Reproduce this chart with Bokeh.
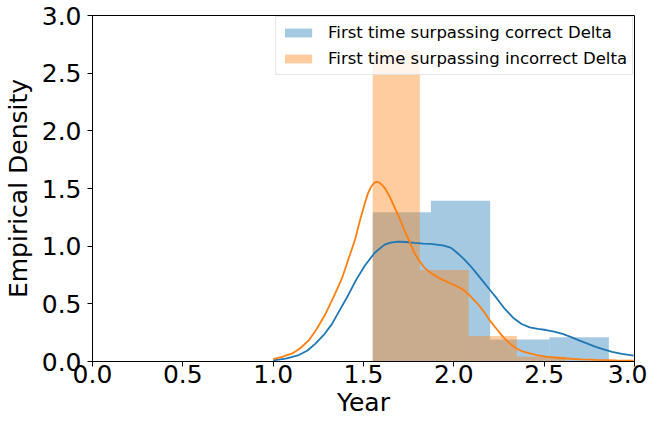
from bokeh.plotting import figure
from bokeh.models import FixedTicker, NumeralTickFormatter, Legend
from bokeh.embed import file_html
from bokeh.resources import INLINE

# ---- data ----
correct_edges = [1.551, 1.873, 2.201, 2.529, 2.858]
correct_density = [1.295, 1.394, 0.191, 0.211]

incorrect_edges = [1.551, 1.812, 2.082, 2.349, 2.620]
incorrect_density = [2.70, 0.794, 0.222, 0.042]

kde_correct_x = [1.0, 1.07, 1.142, 1.19, 1.234, 1.28, 1.325, 1.37, 1.416, 1.46, 1.507, 1.562,
                 1.617, 1.65, 1.69, 1.735, 1.781, 1.83, 1.872, 1.945, 1.985, 2.018, 2.055,
                 2.091, 2.128, 2.164, 2.2, 2.237, 2.28, 2.328, 2.375, 2.42, 2.465, 2.511,
                 2.555, 2.602, 2.65, 2.693, 2.74, 2.785, 2.83, 2.876, 2.93, 2.995]
kde_correct_y = [0.01, 0.025, 0.056, 0.095, 0.155, 0.23, 0.324, 0.45, 0.577, 0.71, 0.83, 0.943,
                 1.013, 1.03, 1.039, 1.036, 1.028, 1.022, 1.019, 1.005, 0.985, 0.943, 0.89,
                 0.83, 0.76, 0.69, 0.62, 0.549, 0.46, 0.38, 0.325, 0.296, 0.282, 0.273,
                 0.258, 0.239, 0.212, 0.183, 0.155, 0.127, 0.105, 0.084, 0.066, 0.051]

kde_incorrect_x = [1.0, 1.05, 1.106, 1.15, 1.197, 1.24, 1.288, 1.335, 1.38, 1.415, 1.453, 1.48,
                   1.507, 1.525, 1.544, 1.558, 1.571, 1.585, 1.6, 1.617, 1.645, 1.672, 1.7,
                   1.726, 1.755, 1.781, 1.81, 1.836, 1.87, 1.909, 1.945, 1.982, 2.02, 2.055,
                   2.09, 2.128, 2.165, 2.201, 2.238, 2.274, 2.31, 2.347, 2.38, 2.42, 2.465,
                   2.511, 2.602, 2.7, 2.785, 2.9, 2.995]
kde_incorrect_y = [0.02, 0.04, 0.07, 0.115, 0.183, 0.28, 0.408, 0.56, 0.718, 0.88, 1.056, 1.22,
                   1.37, 1.46, 1.52, 1.548, 1.557, 1.553, 1.535, 1.506, 1.43, 1.337, 1.24,
                   1.14, 1.04, 0.943, 0.87, 0.816, 0.77, 0.732, 0.703, 0.676, 0.65, 0.619,
                   0.57, 0.507, 0.435, 0.352, 0.28, 0.211, 0.155, 0.113, 0.088, 0.07, 0.054,
                   0.042, 0.028, 0.019, 0.014, 0.01, 0.008]

x_ticks = [0.0, 0.5, 1.0, 1.5, 2.0, 2.5, 3.0]
y_ticks = [0.0, 0.5, 1.0, 1.5, 2.0, 2.5, 3.0]
labels = ["First time surpassing correct Delta", "First time surpassing incorrect Delta"]

BLUE = "#1f77b4"
ORANGE = "#ff7f0e"
FONT = "DejaVu Sans"

p = figure(width=647, height=421, x_range=(0, 3), y_range=(0, 3),
           output_backend="svg", toolbar_location=None,
           min_border_left=87, min_border_right=13, min_border_top=15, min_border_bottom=60)

p.xgrid.visible = False
p.ygrid.visible = False
p.outline_line_color = "black"
p.outline_line_width = 1
p.outline_line_alpha = 1
p.background_fill_color = "white"
p.border_fill_color = "white"

h1 = p.quad(left=correct_edges[:-1], right=correct_edges[1:], bottom=0, top=correct_density,
            fill_color=BLUE, fill_alpha=0.4, line_color=None)
h2 = p.quad(left=incorrect_edges[:-1], right=incorrect_edges[1:], bottom=0, top=incorrect_density,
            fill_color=ORANGE, fill_alpha=0.4, line_color=None)
p.line(kde_correct_x, kde_correct_y, line_color=BLUE, line_width=1.8)
p.line(kde_incorrect_x, kde_incorrect_y, line_color=ORANGE, line_width=1.8)

for ax in (p.xaxis[0], p.yaxis[0]):
    ax.major_label_text_font = FONT
    ax.major_label_text_font_size = "25px"
    ax.major_label_text_color = "black"
    ax.axis_label_text_font = FONT
    ax.axis_label_text_font_size = "25px"
    ax.axis_label_text_font_style = "normal"
    ax.axis_label_text_color = "black"
    ax.major_tick_out = 5
    ax.major_tick_in = 0
    ax.minor_tick_out = 0
    ax.minor_tick_in = 0
    ax.axis_line_color = "black"
    ax.major_tick_line_color = "black"
    ax.formatter = NumeralTickFormatter(format="0.0")

p.xaxis.ticker = FixedTicker(ticks=x_ticks)
p.yaxis.ticker = FixedTicker(ticks=y_ticks)
p.xaxis.axis_label = "Year"
p.yaxis.axis_label = "Empirical Density"
p.xaxis.major_label_standoff = -2
p.yaxis.major_label_standoff = 6
p.xaxis.axis_label_standoff = 2
p.yaxis.axis_label_standoff = 6

legend = Legend(items=[(labels[0], [h1]), (labels[1], [h2])], location="top_right")
legend.label_text_font = FONT
legend.label_text_font_size = "16.5px"
legend.label_text_color = "black"
legend.glyph_width = 34
legend.glyph_height = 11
legend.label_height = 21
legend.label_standoff = 13
legend.spacing = 5
legend.padding = 5
legend.margin = 1
legend.border_line_color = "#cccccc"
legend.border_line_width = 1
legend.background_fill_color = "white"
legend.background_fill_alpha = 0.8
p.add_layout(legend)

open("out.html", "w").write(file_html(p, INLINE))
